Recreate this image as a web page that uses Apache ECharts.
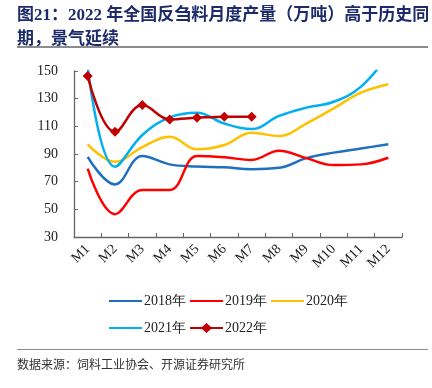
<!DOCTYPE html>
<html><head><meta charset="utf-8">
<script src="https://cdn.jsdelivr.net/npm/echarts@6/dist/echarts.min.js"></script>
<style>
html,body{margin:0;padding:0;background:#fff;}
#wrap{position:relative;width:432px;height:388px;overflow:hidden;}
#title{position:absolute;left:17px;top:3px;width:414px;font-family:"Liberation Serif","Noto Sans CJK SC",serif;font-weight:bold;font-size:17px;line-height:24px;color:#1d2b6b;}
#rule1{position:absolute;left:17px;top:46px;width:411px;height:2px;background:#8c8c8c;}
#rule2{position:absolute;left:17px;top:349px;width:411px;height:1px;background:#8c8c8c;}
#src{position:absolute;left:17px;top:355px;font-family:"Noto Sans CJK SC",sans-serif;font-size:12px;color:#333;}
#chart{position:absolute;left:0;top:0;width:432px;height:388px;}
</style>
</head><body>
<div id="wrap">
<div id="chart"></div>
<div id="title">图21：2022 年全国反刍料月度产量（万吨）高于历史同期，景气延续</div>
<div id="rule1"></div>
<div id="rule2"></div>
<div id="src">数据来源：饲料工业协会、开源证券研究所</div>
</div>
<script>
const categories = ['M1','M2','M3','M4','M5','M6','M7','M8','M9','M10','M11','M12'];
const seriesNames = ['2018年','2019年','2020年','2021年','2022年'];
const s2018 = [88, 68, 88.5, 82.5, 81, 80.4, 79, 80, 87, 91, 94, 97];
const s2019 = [79.5, 46.5, 64, 64, 88.5, 87.6, 85.7, 92.4, 87, 82, 82.5, 87.3];
const s2020 = [97, 84.4, 95, 102.5, 93.4, 96.5, 105.4, 103, 112, 123, 134.3, 140.4];
const s2021 = [153, 80.8, 103.7, 116.5, 119.9, 112, 108, 117.5, 123.5, 127.8, 138.7, 162];
const s2022 = [146.4, 106, 125.4, 115, 116.2, 117, 117];
const yTicks = {min: 30, max: 150, interval: 20};

const colors = ['#1f6fbf','#ff0000','#ffc000','#00b0f0','#c00000'];
const data = [s2018, s2019, s2020, s2021, s2022];
const serif = '"Liberation Serif","Times New Roman",serif';

const chart = echarts.init(document.getElementById('chart'), null, {renderer:'canvas'});
const series = data.map((d, i) => ({
  name: seriesNames[i],
  type: 'line',
  data: d,
  smooth: 0.4,
  clip: true,
  symbol: i === 4 ? 'diamond' : 'none',
  symbolSize: 10,
  showSymbol: i === 4,
  lineStyle: {width: 2.5, color: colors[i]},
  itemStyle: {color: colors[i]},
  z: i === 4 ? 10 : 2
}));
const legendBase = {
  left: 104, orient: 'horizontal', itemWidth: 33, itemHeight: 10, itemGap: 4,
  textStyle: {fontFamily: serif, fontSize: 14, color: '#222', padding: [0,0,0,-3]},
  icon: 'path://M0,4L33,4L33,6L0,6Z'
};
chart.setOption({
  animation: false,
  grid: {left: 74, right: 30, top: 71, bottom: 151},
  xAxis: {
    type: 'category', data: categories, boundaryGap: true,
    axisLine: {lineStyle: {color: '#666', width: 1.3}},
    axisTick: {show: true, inside: true, length: 4, lineStyle: {color: '#666'}},
    axisLabel: {rotate: 45, fontFamily: serif, fontSize: 14, color: '#222', margin: 10}
  },
  yAxis: {
    type: 'value', min: yTicks.min, max: yTicks.max, interval: yTicks.interval,
    axisLine: {show: true, lineStyle: {color: '#666', width: 1.3}},
    axisTick: {show: true, inside: true, length: 4, lineStyle: {color: '#666'}},
    splitLine: {show: false},
    axisLabel: {fontFamily: serif, fontSize: 14, color: '#222', margin: 16}
  },
  legend: [
    Object.assign({}, legendBase, {top: 289, data: seriesNames.slice(0,3)}),
    Object.assign({}, legendBase, {top: 316, data: [
      {name: seriesNames[3]},
      {name: seriesNames[4], icon: 'path://M0,4L12,4L16.5,0L21,4L33,4L33,6L21,6L16.5,10L12,6L0,6Z'}
    ]})
  ],
  series: series
});
</script>
</body></html>
